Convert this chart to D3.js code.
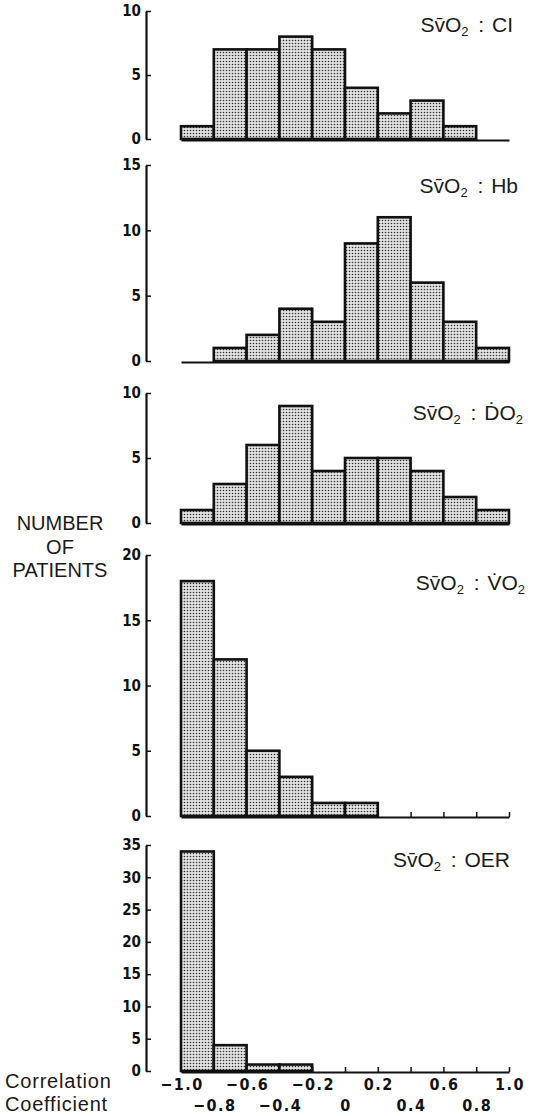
<!DOCTYPE html>
<html>
<head>
<meta charset="utf-8">
<script src="https://cdn.jsdelivr.net/npm/d3@7"></script>
<style>
  body { margin: 0; background: #fff; }
  svg { display: block; }
</style>
</head>
<body>
<svg id="chart" width="538" height="1116"></svg>
<script>
// bin edges of the correlation coefficient
const binEdges = [-1.0, -0.8, -0.6, -0.4, -0.2, 0, 0.2, 0.4, 0.6, 0.8, 1.0];

// number of patients per bin
const ciCounts  = [1, 7, 7, 8, 7, 4, 2, 3, 1, 0];
const hbCounts  = [0, 1, 2, 4, 3, 9, 11, 6, 3, 1];
const do2Counts = [1, 3, 6, 9, 4, 5, 5, 4, 2, 1];
const vo2Counts = [18, 12, 5, 3, 1, 1, 0, 0, 0, 0];
const oerCounts = [34, 4, 1, 1, 0, 0, 0, 0, 0, 0];

const yMaxes = [10, 15, 10, 20, 35];
const yStep = 5;

const xTicksTopRow = [-1.0, -0.6, -0.2, 0.2, 0.6, 1.0];
const xTicksBottomRow = [-0.8, -0.4, 0, 0.4, 0.8];

const yTitleLines = ["NUMBER", "OF", "PATIENTS"];
const xTitleLines = ["Correlation", "Coefficient"];

// panel layout (pixels)
const panels = [
  { counts: ciCounts,  max: yMaxes[0], top: 11,  base: 139,  title: "CI",  tx: 513, ty: 32,  ticks: false },
  { counts: hbCounts,  max: yMaxes[1], top: 165, base: 361,  title: "Hb",  tx: 518, ty: 193, ticks: false },
  { counts: do2Counts, max: yMaxes[2], top: 393, base: 523,  title: "DO2", tx: 523, ty: 420, ticks: false },
  { counts: vo2Counts, max: yMaxes[3], top: 555, base: 816,  title: "VO2", tx: 525, ty: 590, ticks: true },
  { counts: oerCounts, max: yMaxes[4], top: 845, base: 1071, title: "OER", tx: 510, ty: 867, ticks: true }
];

const svg = d3.select("#chart");
svg.append("rect").attr("width", 538).attr("height", 1116).attr("fill", "#fff");

// dotted screen fill like the print
const defs = svg.append("defs");
const pat = defs.append("pattern")
  .attr("id", "dots")
  .attr("width", 3).attr("height", 3)
  .attr("patternUnits", "userSpaceOnUse");
pat.append("rect").attr("width", 3).attr("height", 3).attr("fill", "#e2e2e2");
pat.append("circle").attr("cx", 1.5).attr("cy", 1.5).attr("r", 0.8).attr("fill", "#333");

const x = d3.scaleLinear().domain([-1, 1]).range([181, 509]);
const axisX = 146;

const numFont = "'Liberation Sans Narrow', 'DejaVu Sans Condensed', sans-serif";
const textFont = "'Liberation Sans', Arial, sans-serif";

panels.forEach((p, idx) => {
  const y = d3.scaleLinear().domain([0, p.max]).range([p.base, p.top]);
  const g = svg.append("g");

  // y axis, ticks pointing inwards
  const ya = g.append("g")
    .attr("transform", `translate(${axisX},0)`)
    .call(d3.axisLeft(y)
      .tickValues(d3.range(0, p.max + 1, yStep))
      .tickSizeInner(-5)
      .tickSizeOuter(0)
      .tickPadding(5));
  ya.select(".domain").attr("stroke", "#111").attr("stroke-width", 2.2);
  ya.selectAll(".tick line").attr("stroke", "#111").attr("stroke-width", 1.5);
  ya.selectAll(".tick text")
    .attr("fill", "#111")
    .style("font-family", numFont)
    .style("font-weight", "bold")
    .style("font-size", "15px");

  // baseline along x
  const xa = g.append("g")
    .attr("transform", `translate(0,${y(0) + 1})`)
    .call(d3.axisBottom(x)
      .tickValues(binEdges)
      .tickSizeInner(p.ticks ? -5 : 0)
      .tickSizeOuter(0)
      .tickFormat(""));
  xa.select(".domain").attr("stroke", "#111").attr("stroke-width", 2.2);
  xa.selectAll(".tick line").attr("stroke", "#111").attr("stroke-width", 1.5);

  // bars
  const bins = p.counts.map((c, i) => ({ x0: binEdges[i], x1: binEdges[i + 1], c }))
    .filter(d => d.c > 0);
  g.selectAll("rect.bar")
    .data(bins)
    .join("rect")
    .attr("class", "bar")
    .attr("x", d => x(d.x0))
    .attr("y", d => y(d.c))
    .attr("width", d => x(d.x1) - x(d.x0))
    .attr("height", d => y(0) - y(d.c))
    .attr("fill", "url(#dots)")
    .attr("stroke", "#111")
    .attr("stroke-width", 2.6);

  // panel title  SvO2 : xx
  const t = g.append("text")
    .attr("x", p.tx).attr("y", p.ty)
    .attr("text-anchor", "end")
    .attr("fill", "#1a1a1a")
    .style("font-family", textFont)
    .style("font-size", "21px")
    .style("font-weight", "500");
  t.append("tspan").text("Sv\u0304O");
  t.append("tspan").attr("dy", 4).style("font-size", "13px").text("2");
  t.append("tspan").attr("dy", -4).attr("dx", 4).text(" : ");
  if (p.title === "DO2" || p.title === "VO2") {
    t.append("tspan").attr("dx", 2).text((p.title === "DO2" ? "D" : "V") + "\u0307O");
    t.append("tspan").attr("dy", 4).style("font-size", "13px").text("2");
  } else {
    t.append("tspan").attr("dx", 2).text(p.title);
  }

  // tick labels under the last panel, in two staggered rows
  if (idx === panels.length - 1) {
    const fmt = d => d === 0 ? "0" : d3.format(".1f")(d);
    [[xTicksTopRow, 1090], [xTicksBottomRow, 1111]].forEach(([vals, ty]) => {
      g.append("g").selectAll("text")
        .data(vals)
        .join("text")
        .attr("x", d => x(d) + 1)
        .attr("y", ty)
        .attr("text-anchor", "middle")
        .attr("fill", "#111")
        .style("font-family", numFont)
        .style("font-weight", "bold")
        .style("font-size", "16px")
        .style("letter-spacing", "1.5px")
        .text(fmt);
    });
  }
});

// left title
svg.append("g").selectAll("text")
  .data(yTitleLines)
  .join("text")
  .attr("x", 60)
  .attr("y", (d, i) => 530 + i * 23.5)
  .attr("text-anchor", "middle")
  .attr("fill", "#1a1a1a")
  .style("font-family", textFont)
  .style("font-size", "20px")
  .text(d => d);

// x title
svg.append("g").selectAll("text")
  .data(xTitleLines)
  .join("text")
  .attr("x", 5)
  .attr("y", (d, i) => 1088 + i * 23)
  .attr("fill", "#1a1a1a")
  .style("font-family", textFont)
  .style("font-size", "20px")
  .style("letter-spacing", "0.8px")
  .text(d => d);
</script>
</body>
</html>
